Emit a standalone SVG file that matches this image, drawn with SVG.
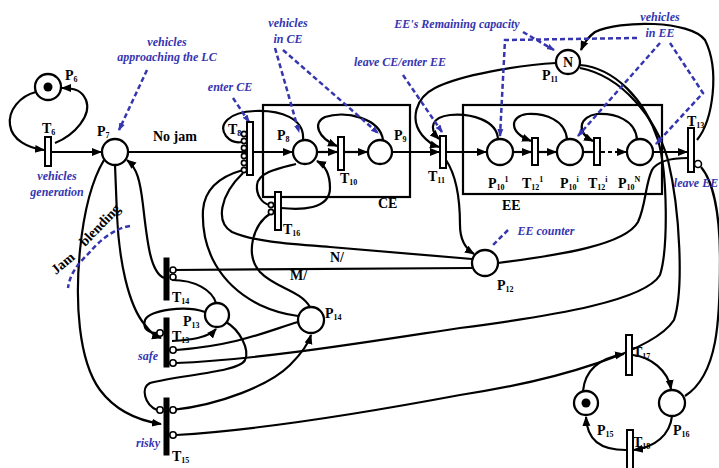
<svg xmlns="http://www.w3.org/2000/svg" width="719" height="468" viewBox="0 0 719 468">
<defs>
<marker id="ar" markerUnits="userSpaceOnUse" markerWidth="10" markerHeight="10" refX="9" refY="5" orient="auto"><path d="M0,1 L10,5 L0,9 Z" fill="#000"/></marker>
<marker id="ab" markerUnits="userSpaceOnUse" markerWidth="8" markerHeight="8" refX="7" refY="4" orient="auto"><path d="M0,1 L8,4 L0,7 Z" fill="#3535b0"/></marker>
</defs>
<style>
.pl{fill:#fff;stroke:#000;stroke-width:2.3}
.tr{fill:#fff;stroke:#000;stroke-width:2}
.tb{fill:#000;stroke:#000;stroke-width:1}
.inh{fill:#fff;stroke:#000;stroke-width:1.6}
.c path,.c line{fill:none;stroke:#000;stroke-width:2.2}
.d{fill:none;stroke:#3535b0;stroke-width:2.5;stroke-dasharray:5,3}
.lb{font-family:"Liberation Serif",serif;font-weight:bold;font-size:14px;fill:#000}
.sb{font-size:8px}
.bl{font-family:"Liberation Serif",serif;font-weight:bold;font-style:italic;font-size:12px;fill:#3535b0;text-anchor:middle}
.box{fill:none;stroke:#000;stroke-width:2.2}
</style>
<rect width="719" height="468" fill="#fff"/>

<!-- boxes -->
<g id="CE"><rect class="box" x="263" y="105" width="147" height="92"/><text class="lb" x="378" y="208" font-size="11">CE</text></g>
<g id="EE"><rect class="box" x="463" y="105" width="199" height="89"/><text class="lb" x="502" y="210" font-size="11">EE</text></g>

<!-- connectors -->
<g class="c" id="connectors">
<path d="M36,92 C20,96 8,110 10,125 C12,140 28,148 44,150" marker-end="url(#ar)"/>
<path d="M55,143 C75,135 92,115 86,100 C82,91 76,88 62,88" marker-end="url(#ar)"/>
<line x1="52" y1="152" x2="101" y2="152" marker-end="url(#ar)"/>
<line x1="128" y1="152" x2="292" y2="152" marker-end="url(#ar)"/>
<line x1="317" y1="152" x2="337" y2="152" marker-end="url(#ar)"/>
<line x1="344" y1="152" x2="367" y2="152" marker-end="url(#ar)"/>
<line x1="392" y1="152" x2="439" y2="152" marker-end="url(#ar)"/>
<line x1="446" y1="152" x2="486" y2="152" marker-end="url(#ar)"/>
<line x1="513" y1="152" x2="531" y2="152" marker-end="url(#ar)"/>
<line x1="538" y1="152" x2="556" y2="152" marker-end="url(#ar)"/>
<line x1="583" y1="152" x2="593" y2="152"/>
<line x1="601" y1="152" x2="626" y2="152" stroke-dasharray="4,3" marker-end="url(#ar)"/>
<line x1="653" y1="152" x2="687" y2="152" marker-end="url(#ar)"/>
<!-- loops -->
<path d="M303,140 C305,118 280,110 255,111 C228,112 218,125 226,136 C231,142 237,143 242,142"/>
<path d="M383,140 C380,118 345,110 325,117 C312,123 318,138 337,146" marker-end="url(#ar)"/>
<path d="M281,208 C300,210 330,210 330,188 C330,175 326,166 317,161" marker-end="url(#ar)"/>
<path d="M296,164 C280,168 258,172 257,185 C256,195 262,203 269,205"/>
<path d="M498,139 C497,120 470,113 450,115 C432,117 428,128 439,139" marker-end="url(#ar)"/>
<path d="M567,140 C566,120 545,113 527,114 C510,116 508,132 531,141" marker-end="url(#ar)"/>
<path d="M637,140 C636,120 615,113 597,114 C580,116 575,132 593,141" marker-end="url(#ar)"/>
<!-- P11 arcs -->
<path d="M556,63 C520,65 460,75 435,88 C415,98 410,120 422,135 C427,141 432,145 439,147" marker-end="url(#ar)"/>
<path d="M697,140 C713,120 720,70 705,40 C690,20 620,20 595,32 C588,37 584,43 581,50" marker-end="url(#ar)"/>
<path d="M580,65 C615,68 645,100 658,140 C668,175 668,250 660,275 C645,300 560,315 460,328 C380,340 260,360 176,363"/>
<path d="M580,68 C622,76 656,118 668,160 C680,210 684,290 674,320 C655,350 560,380 460,395 C380,410 260,430 176,435"/>
<!-- P12 arcs -->
<path d="M446,160 C456,175 460,200 460,225 C460,240 466,249 474,254" marker-end="url(#ar)"/>
<path d="M498,263 C560,255 625,245 638,222 C646,205 645,185 652,170 C658,160 675,158 688,158"/>
<path d="M472,259 L330,247 C290,244 255,242 232,232 C215,222 220,195 243,173"/>
<line x1="173" y1="270" x2="472" y2="268"/>
<!-- T8 / T16 to P14 -->
<path d="M243,170 C225,175 205,185 203,210 C201,250 220,285 260,305 C275,312 290,315 298,316"/>
<path d="M271,213 C252,225 245,255 260,272 C275,288 300,290 310,307"/>
<!-- P7 arcs -->
<path d="M164,278 C150,272 147,240 143,205 C140,180 137,168 127,160" marker-end="url(#ar)"/>
<path d="M115,165 L117,215 C119,260 128,305 145,325 C150,332 154,336 161,338" marker-end="url(#ar)"/>
<path d="M104,160 C92,180 84,210 80,250 C75,300 78,360 100,390 C115,410 135,420 161,424" marker-end="url(#ar)"/>
<!-- P13 / P14 arcs -->
<path d="M172,280 C195,280 212,290 216,303"/>
<path d="M205,312 C185,305 150,310 145,320 C142,330 150,333 157,333"/>
<path d="M172,341 C190,340 208,338 216,329" marker-end="url(#ar)"/>
<path d="M298,322 C270,330 240,345 176,350"/>
<path d="M172,410 C220,405 270,385 290,365 C300,355 308,345 311,335" marker-end="url(#ar)"/>
<path d="M226,322 C240,330 250,350 245,360 C240,372 180,375 150,383 C140,388 145,405 157,410"/>
<!-- P15/P16 -->
<path d="M583,391 C585,370 600,358 624,354" marker-end="url(#ar)"/>
<path d="M633,355 C650,357 668,370 671,389" marker-end="url(#ar)"/>
<path d="M672,416 C670,435 655,447 634,450" marker-end="url(#ar)"/>
<path d="M626,450 C600,450 587,440 586,417" marker-end="url(#ar)"/>
<path d="M701,167 C712,180 720,210 720,260 C720,320 718,375 685,396"/>
</g>

<!-- annotations -->
<g id="annotations">
<text class="bl" x="57" y="180">vehicles</text>
<text class="bl" x="57" y="196">generation</text>
<text class="bl" x="167" y="46">vehicles</text>
<text class="bl" x="167" y="61">approaching the LC</text>
<path class="d" d="M147,70 L119,130" marker-end="url(#ab)"/>
<text class="bl" x="288" y="27">vehicles</text>
<text class="bl" x="288" y="43">in CE</text>
<path class="d" d="M275,48 L299,132" marker-end="url(#ab)"/>
<path class="d" d="M283,50 L378,133" marker-end="url(#ab)"/>
<text class="bl" x="230" y="91">enter CE</text>
<path class="d" d="M233,98 L249,122" marker-end="url(#ab)"/>
<text class="bl" x="400" y="66">leave CE/enter EE</text>
<path class="d" d="M403,75 L442,132" marker-end="url(#ab)"/>
<text class="bl" x="457" y="28">EE's Remaining capacity</text>
<path class="d" d="M523,32 L554,50" marker-end="url(#ab)"/>
<text class="bl" x="660" y="21">vehicles</text>
<text class="bl" x="660" y="37">in EE</text>
<path class="d" d="M637,38 L505,40 L500,136" marker-end="url(#ab)"/>
<path class="d" d="M660,43 L578,136" marker-end="url(#ab)"/>
<path class="d" d="M670,43 L703,93 L656,144" marker-end="url(#ab)"/>
<text class="bl" x="546" y="235">EE counter</text>
<path class="d" d="M508,230 L493,245"/>
<text class="bl" x="148" y="360">safe</text>
<text class="bl" x="148" y="447">risky</text>
<text class="bl" x="696" y="187">leave EE</text>
<path class="d" d="M130,226 C115,228 100,240 90,252 C80,262 70,272 68,288"/>
<text class="lb" font-size="11" transform="translate(56,275) rotate(-40)">Jam</text>
<text class="lb" font-size="11" transform="translate(85,247) rotate(-46)">blending</text>
<text class="lb" font-size="12" x="153" y="141">No jam</text>
<text class="lb" font-size="13" x="290" y="280">M/</text>
<text class="lb" font-size="13" x="330" y="262">N/</text>
</g>

<!-- places -->
<g id="P6"><circle class="pl" cx="48" cy="87" r="13"/><circle cx="48" cy="87" r="4.5"/><text class="lb" x="65" y="80">P<tspan class="sb" dy="2">6</tspan></text></g>
<g id="P7"><circle class="pl" cx="115" cy="152" r="13"/><text class="lb" x="97" y="136">P<tspan class="sb" dy="2">7</tspan></text></g>
<g id="P8"><circle class="pl" cx="305" cy="152" r="12"/><text class="lb" x="277" y="140">P<tspan class="sb" dy="2">8</tspan></text></g>
<g id="P9"><circle class="pl" cx="380" cy="152" r="12"/><text class="lb" x="394" y="140">P<tspan class="sb" dy="2">9</tspan></text></g>
<g id="P10_1"><circle class="pl" cx="500" cy="152" r="13"/><text class="lb" x="488" y="188">P<tspan class="sb" dy="2">10</tspan><tspan class="sb" dy="-8">1</tspan></text></g>
<g id="P10_i"><circle class="pl" cx="570" cy="152" r="13"/><text class="lb" x="560" y="188">P<tspan class="sb" dy="2">10</tspan><tspan class="sb" dy="-8">i</tspan></text></g>
<g id="P10_N"><circle class="pl" cx="640" cy="152" r="13"/><text class="lb" x="618" y="188">P<tspan class="sb" dy="2">10</tspan><tspan class="sb" dy="-8">N</tspan></text></g>
<g id="P11"><circle class="pl" cx="568" cy="62" r="12"/><text class="lb" x="568" y="67" font-size="12" text-anchor="middle">N</text><text class="lb" x="542" y="80">P<tspan class="sb" dy="2">11</tspan></text></g>
<g id="P12"><circle class="pl" cx="485" cy="263" r="13"/><text class="lb" x="497" y="290">P<tspan class="sb" dy="2">12</tspan></text></g>
<g id="P13"><circle class="pl" cx="217" cy="315" r="12"/><text class="lb" x="183" y="326">P<tspan class="sb" dy="2">13</tspan></text></g>
<g id="P14"><circle class="pl" cx="311" cy="320" r="13"/><text class="lb" x="325" y="318">P<tspan class="sb" dy="2">14</tspan></text></g>
<g id="P15"><circle class="pl" cx="586" cy="403" r="12"/><circle cx="586" cy="403" r="4.5"/><text class="lb" x="597" y="435">P<tspan class="sb" dy="2">15</tspan></text></g>
<g id="P16"><circle class="pl" cx="672" cy="403" r="13"/><text class="lb" x="673" y="435">P<tspan class="sb" dy="2">16</tspan></text></g>

<!-- transitions -->
<g id="T6"><rect class="tr" x="45" y="137" width="6" height="29"/><text class="lb" x="42" y="133">T<tspan class="sb" dy="2">6</tspan></text></g>
<g id="T8"><rect class="tr" x="247" y="122" width="6" height="53"/>
<circle class="inh" cx="244" cy="134" r="2.6"/><circle class="inh" cx="244" cy="141" r="2.6"/><circle class="inh" cx="244" cy="148" r="2.6"/><circle class="inh" cx="244" cy="156" r="2.6"/><circle class="inh" cx="244" cy="163" r="2.6"/><circle class="inh" cx="244" cy="170" r="2.6"/>
<text class="lb" x="228" y="134">T<tspan class="sb" dy="2">8</tspan></text></g>
<g id="T10"><rect class="tr" x="338" y="137" width="6" height="33"/><text class="lb" x="340" y="183">T<tspan class="sb" dy="2">10</tspan></text></g>
<g id="T11"><rect class="tr" x="440" y="136" width="6" height="32"/><text class="lb" x="428" y="181">T<tspan class="sb" dy="2">11</tspan></text></g>
<g id="T12_1"><rect class="tr" x="532" y="138" width="6" height="27"/><text class="lb" x="522" y="188">T<tspan class="sb" dy="2">12</tspan><tspan class="sb" dy="-8">1</tspan></text></g>
<g id="T12_i"><rect class="tr" x="594" y="138" width="6" height="27"/><text class="lb" x="588" y="188">T<tspan class="sb" dy="2">12</tspan><tspan class="sb" dy="-8">i</tspan></text></g>
<g id="T13"><rect class="tr" x="688" y="128" width="6" height="44"/><circle class="inh" cx="698" cy="164" r="3.5"/><text class="lb" x="687" y="126">T<tspan class="sb" dy="2">13</tspan></text></g>
<g id="T14"><rect class="tb" x="164" y="258" width="5" height="42"/><circle class="inh" cx="173" cy="270" r="3"/><circle class="inh" cx="173" cy="277" r="3"/><text class="lb" x="172" y="302">T<tspan class="sb" dy="2">14</tspan></text></g>
<g id="T13s"><rect class="tb" x="164" y="318" width="5" height="49"/><circle class="inh" cx="160" cy="333" r="3.2"/><circle class="inh" cx="173" cy="350" r="3.2"/><circle class="inh" cx="173" cy="363" r="3.2"/><text class="lb" x="172" y="341">T<tspan class="sb" dy="2">13</tspan></text></g>
<g id="T15"><rect class="tb" x="164" y="398" width="5" height="57"/><circle class="inh" cx="160" cy="410" r="3.2"/><circle class="inh" cx="173" cy="410" r="3.2"/><circle class="inh" cx="173" cy="435" r="3.2"/><text class="lb" x="172" y="461">T<tspan class="sb" dy="2">15</tspan></text></g>
<g id="T16"><rect class="tr" x="275" y="192" width="6" height="38"/><circle class="inh" cx="271" cy="205" r="2.6"/><circle class="inh" cx="271" cy="212" r="2.6"/><text class="lb" x="283" y="234">T<tspan class="sb" dy="2">16</tspan></text></g>
<g id="T17"><rect class="tr" x="626" y="335" width="6" height="40"/><text class="lb" x="633" y="357">T<tspan class="sb" dy="2">17</tspan></text></g>
<g id="T18"><rect class="tr" x="627" y="430" width="6" height="40"/><text class="lb" x="633" y="447">T<tspan class="sb" dy="2">18</tspan></text></g>
</svg>
